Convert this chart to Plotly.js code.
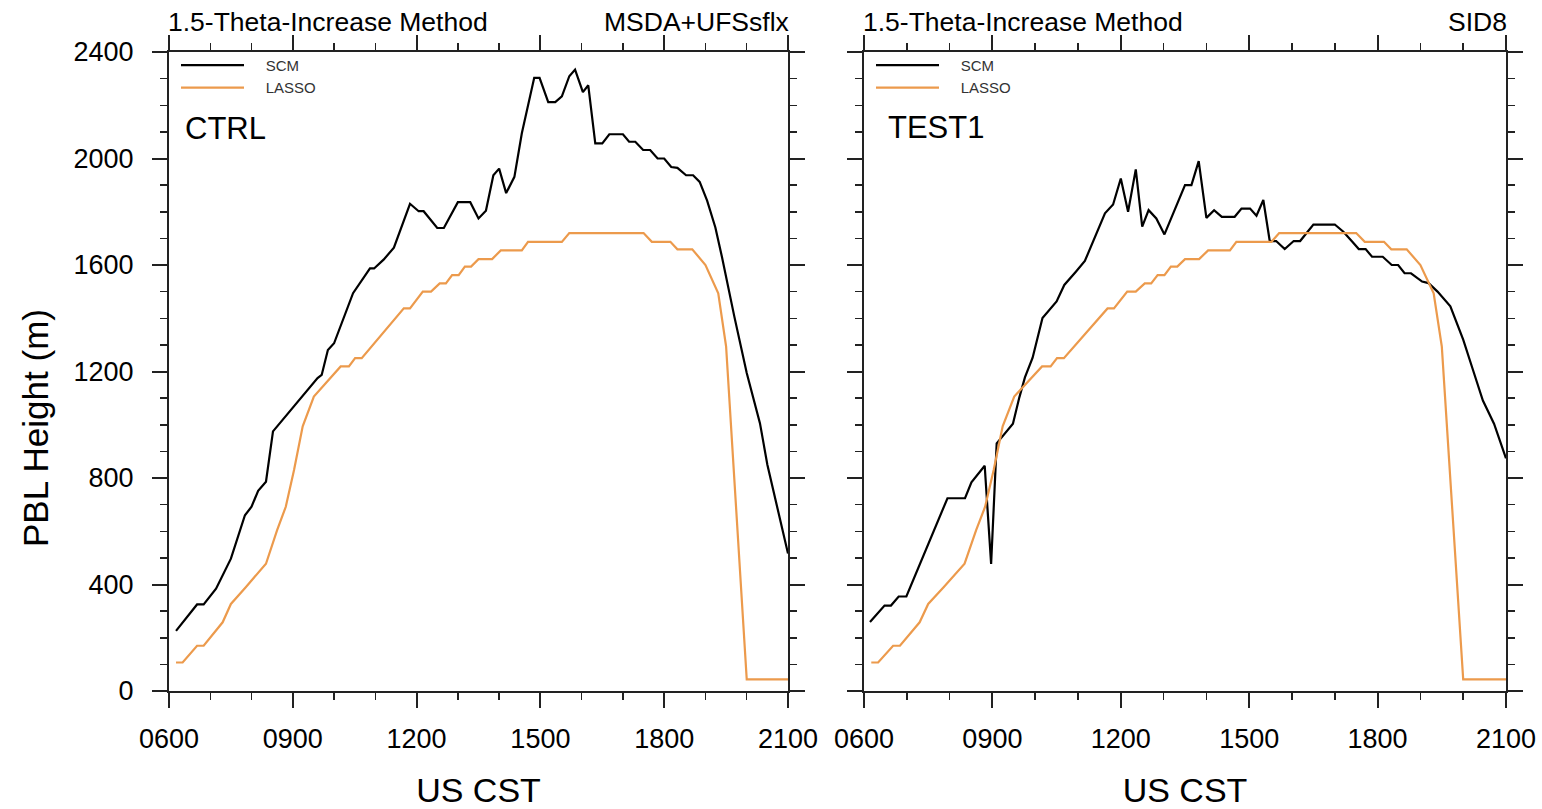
<!DOCTYPE html>
<html>
<head>
<meta charset="utf-8">
<script src="https://cdn.plot.ly/plotly-3.0.1.min.js"></script>
<style>html,body{margin:0;padding:0;background:#fff;}#chart{width:1542px;height:809px;}</style>
</head>
<body>
<div id="chart"></div>
<script>
// ---- Data (time in decimal hours, US CST; PBL height in m) ----
const ctrlTime = [6.17,6.68,6.84,7.14,7.5,7.7,7.84,8.0,8.16,8.35,8.52,9.6,9.7,9.85,10.0,10.46,10.72,10.87,10.97,11.2,11.45,11.84,12.05,12.17,12.5,12.66,13.0,13.3,13.5,13.68,13.86,14.0,14.17,14.37,14.55,14.85,14.98,15.19,15.36,15.52,15.7,15.84,16.03,16.16,16.33,16.5,16.67,17.0,17.15,17.3,17.49,17.66,17.84,18.0,18.17,18.32,18.53,18.7,18.86,19.04,19.24,19.4,19.7,20.0,20.32,20.5,21.0];
const ctrlSCM  = [226,325,325,384,497,597,660,692,752,786,975,1175,1187,1281,1306,1494,1556,1587,1587,1620,1665,1830,1802,1802,1739,1739,1836,1836,1775,1804,1937,1962,1870,1931,2095,2303,2303,2212,2212,2233,2309,2334,2249,2275,2057,2057,2091,2091,2063,2063,2032,2032,2000,2000,1968,1965,1937,1937,1912,1842,1741,1630,1406,1194,1006,850,516];

const test1Time = [6.14,6.48,6.63,6.81,6.99,7.95,8.36,8.51,8.82,8.97,9.1,9.48,9.63,9.76,9.94,10.17,10.5,10.68,10.95,11.16,11.63,11.82,12.0,12.17,12.35,12.5,12.65,12.83,13.02,13.5,13.65,13.82,14.0,14.18,14.36,14.66,14.82,15.02,15.17,15.33,15.48,15.63,15.83,16.04,16.19,16.5,17.0,17.2,17.41,17.56,17.72,17.87,18.12,18.33,18.48,18.63,18.78,19.04,19.19,19.4,19.7,20.0,20.21,20.46,20.72,21.0];
const test1SCM  = [259,321,321,355,355,724,724,784,846,477,930,1004,1103,1178,1252,1401,1463,1525,1575,1615,1794,1827,1925,1800,1959,1744,1806,1775,1715,1900,1900,1990,1777,1806,1781,1781,1812,1812,1785,1844,1690,1690,1660,1690,1690,1752,1752,1725,1687,1660,1660,1631,1631,1600,1600,1569,1569,1538,1532,1500,1445,1320,1215,1091,1004,874];

const lassoTime = [6.17,6.33,6.68,6.84,7.3,7.5,7.86,8.35,8.62,8.83,9.03,9.24,9.51,10.16,10.36,10.51,10.67,11.69,11.84,12.15,12.35,12.56,12.71,12.86,13.02,13.17,13.32,13.5,13.83,14.04,14.55,14.7,15.52,15.7,17.5,17.7,18.15,18.32,18.68,18.9,19.0,19.31,19.5,20.0,21.0];
const lassoPBL  = [107,107,170,170,258,327,390,478,604,692,830,994,1106,1219,1219,1250,1250,1437,1437,1500,1500,1531,1531,1562,1562,1594,1594,1622,1622,1655,1655,1687,1687,1720,1720,1687,1687,1659,1659,1621,1600,1494,1294,44,44];

const xTickVals = [6,9,12,15,18,21];
const xTickText = ["0600","0900","1200","1500","1800","2100"];
const seriesNames = ["SCM","LASSO"];
const panelLabels = ["CTRL","TEST1"];
const titleLeft = "1.5-Theta-Increase Method";
const titleRight = ["MSDA+UFSsflx","SID8"];
const xTitle = "US CST";
const yTitle = "PBL Height (m)";

// ---- Styles ----
const FONT = "Liberation Sans, Arial, Helvetica, sans-serif";
const scmColor = "#000000";
const lassoColor = "#EC9A4C";
const axisColor = "#222222";
const NB = "\u00a0\u00a0\u00a0\u00a0";

const traces = [
  {x: ctrlTime, y: ctrlSCM, name: NB + seriesNames[0], type: "scatter", mode: "lines",
   line: {color: scmColor, width: 2.2}, xaxis: "x", yaxis: "y", legend: "legend"},
  {x: lassoTime, y: lassoPBL, name: NB + seriesNames[1], type: "scatter", mode: "lines",
   line: {color: lassoColor, width: 2.2}, xaxis: "x", yaxis: "y", legend: "legend"},
  {x: test1Time, y: test1SCM, name: NB + seriesNames[0], type: "scatter", mode: "lines",
   line: {color: scmColor, width: 2.2}, xaxis: "x2", yaxis: "y2", legend: "legend2"},
  {x: lassoTime, y: lassoPBL, name: NB + seriesNames[1], type: "scatter", mode: "lines",
   line: {color: lassoColor, width: 2.2}, xaxis: "x2", yaxis: "y2", legend: "legend2"}
];

function xAxis(domain, anchor) {
  return {
    domain: domain, anchor: anchor, range: [6, 21], tickmode: "array",
    tickvals: xTickVals, ticktext: xTickText,
    showline: true, linecolor: axisColor, linewidth: 2, mirror: "ticks",
    ticks: "outside", ticklen: 15, tickwidth: 2, tickcolor: axisColor,
    minor: {dtick: 1, tick0: 6, ticks: "outside", ticklen: 7, tickwidth: 1.5, tickcolor: axisColor, showgrid: false},
    showgrid: false, zeroline: false,
    tickfont: {family: FONT, size: 27, color: "#000"},
    ticklabelstandoff: 8,
    title: {text: xTitle, font: {family: FONT, size: 34, color: "#000"}, standoff: 25},
    fixedrange: true
  };
}
function yAxis(anchor, showLabels) {
  return {
    domain: [0, 1], anchor: anchor, range: [0, 2400], tickmode: "linear", tick0: 0, dtick: 400,
    showline: true, linecolor: axisColor, linewidth: 2, mirror: "ticks",
    ticks: "outside", ticklen: 15, tickwidth: 2, tickcolor: axisColor,
    minor: {dtick: 100, tick0: 0, ticks: "outside", ticklen: 7, tickwidth: 1.5, tickcolor: axisColor, showgrid: false},
    showgrid: false, zeroline: false, showticklabels: showLabels,
    tickfont: {family: FONT, size: 27, color: "#000"},
    ticklabelstandoff: 13,
    fixedrange: true
  };
}

const W = 1542, H = 809;
const mL = 169, mR = 36, mT = 52, mB = 118;
const plotW = W - mL - mR;
const plotH = H - mT - mB;
const leftDomain = [0, (788 - mL) / plotW];
const rightDomain = [(864 - mL) / plotW, 1];

const legendCommon = {
  font: {family: FONT, size: 15, color: "#333"},
  bgcolor: "rgba(0,0,0,0)", borderwidth: 0,
  xanchor: "left", yanchor: "top", itemwidth: 63, tracegroupgap: 0,
  itemclick: false, itemdoubleclick: false
};

const annFont = {family: FONT, size: 26.5, color: "#000"};
const annotations = [
  {text: titleLeft, xref: "x domain", yref: "y domain", x: 0, y: 1, xanchor: "left", yanchor: "bottom", showarrow: false, font: annFont, yshift: 13, xshift: -3},
  {text: titleRight[0], xref: "x domain", yref: "y domain", x: 1, y: 1, xanchor: "right", yanchor: "bottom", showarrow: false, font: annFont, yshift: 13, xshift: 3},
  {text: titleLeft, xref: "x2 domain", yref: "y2 domain", x: 0, y: 1, xanchor: "left", yanchor: "bottom", showarrow: false, font: annFont, yshift: 13, xshift: -3},
  {text: titleRight[1], xref: "x2 domain", yref: "y2 domain", x: 1, y: 1, xanchor: "right", yanchor: "bottom", showarrow: false, font: annFont, yshift: 13, xshift: 3},
  {text: panelLabels[0], xref: "x domain", yref: "y domain", x: 0.022, y: 0.881, xanchor: "left", yanchor: "middle", showarrow: false, font: {family: FONT, size: 31, color: "#000"}},
  {text: panelLabels[1], xref: "x2 domain", yref: "y2 domain", x: 0.034, y: 0.882, xanchor: "left", yanchor: "middle", showarrow: false, font: {family: FONT, size: 31, color: "#000"}},
  {text: yTitle, xref: "x domain", yref: "y domain", x: -(169 - 35) / (788 - 169), y: (691 - 428) / plotH,
   xanchor: "center", yanchor: "middle", textangle: -90, showarrow: false, font: {family: FONT, size: 35, color: "#000"}}
];

const layout = {
  width: W, height: H,
  margin: {l: mL, r: mR, t: mT, b: mB, autoexpand: false},
  paper_bgcolor: "#fff", plot_bgcolor: "#fff",
  showlegend: true,
  xaxis: xAxis(leftDomain, "y"),
  yaxis: yAxis("x", true),
  xaxis2: xAxis(rightDomain, "y2"),
  yaxis2: yAxis("x2", false),
  legend: Object.assign({x: 7 / plotW, y: 1.005}, legendCommon),
  legend2: Object.assign({x: rightDomain[0] + 7 / plotW, y: 1.005}, legendCommon),
  annotations: annotations
};

Plotly.newPlot("chart", traces, layout, {displayModeBar: false, staticPlot: true});
</script>
</body>
</html>
